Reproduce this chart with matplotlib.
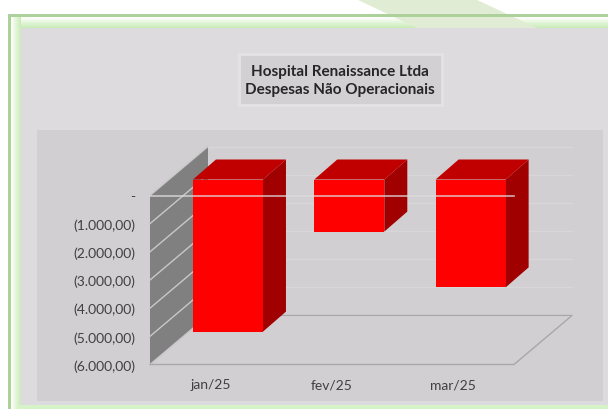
import numpy as np
from matplotlib import pyplot as plt
from matplotlib.colors import LinearSegmentedColormap
from matplotlib.patches import Polygon, Rectangle

months = ["jan/25", "fev/25", "mar/25"]
despesas = [-5400, -1850, -3830]
y_ticks = [0, -1000, -2000, -3000, -4000, -5000, -6000]
y_labels = ["-", "(1.000,00)", "(2.000,00)", "(3.000,00)", "(4.000,00)", "(5.000,00)", "(6.000,00)"]
title = "Hospital Renaissance Ltda\nDespesas Não Operacionais"

plt.rcParams['font.family'] = ['Lato', 'DejaVu Sans']
W, H = 608, 410
TEXT = "#404040"

fig = plt.figure(figsize=(W / 100, H / 100), dpi=100, facecolor="white")

# background drawn in pixel coordinates
bg = fig.add_axes([0, 0, 1, 1])
bg.set_xlim(0, W)
bg.set_ylim(H, 0)
bg.axis("off")
bg.add_patch(Polygon([(356, 0), (475, 0), (537, 29), (417, 29)], fc="#e1ecd4", ec="none", zorder=2))
glow = LinearSegmentedColormap.from_list("glow", ["#ffffff", "#c9ecb6"])
bg.imshow(np.linspace(0, 1, 32).reshape(-1, 1), cmap=glow, extent=(11, W, 29, 18), aspect="auto", zorder=1)
bg.imshow(np.linspace(0, 1, 32).reshape(1, -1), cmap=glow, extent=(11, 21, H, 18), aspect="auto", zorder=1)
bg.set_xlim(0, W)
bg.set_ylim(H, 0)
bg.add_patch(Rectangle((8, 15), W, 3, fc="#add19a", ec="none", zorder=3))
bg.add_patch(Rectangle((8, 15), 3, H, fc="#add19a", ec="none", zorder=3))
bg.add_patch(Rectangle((21, 29), W - 21, 377, fc="#dddbdd", ec="none", zorder=3))
bg.add_patch(Rectangle((17, 406), W, 4, fc="#d6f3c8", ec="none", zorder=3))
bg.add_patch(Rectangle((37, 131), 566, 271, fc="#d1cfd1", ec="none", zorder=4))
bg.add_patch(Rectangle((239, 55), 203, 51, fc="#d2d0d2", ec="#e4e2e4", lw=2, zorder=4))
bg.text(340, 81, title, ha="center", va="center", fontsize=11, fontweight="bold",
        color="#262626", linespacing=1.4, zorder=5)

# chart axes sit on the front plane of the 3D box
ax = fig.add_axes([150 / W, 1 - 365.5 / H, 364 / W, 169 / H])
ax.patch.set_alpha(0)
ax.set_xlim(0, 3)
ax.set_ylim(-6000, 0)
for s in ax.spines.values():
    s.set_visible(False)

x_px = 3 / 364
y_px = 6000 / 169
depth_x, depth_y = 58 * x_px, 49 * y_px
near_x, near_y = 17.3 * x_px, 16 * y_px
far_x, far_y = 40.3 * x_px, 36 * y_px
xs = np.arange(len(months)) + 0.5
width = 70 * x_px

# left wall and floor
ax.add_patch(Polygon([(0, 0), (depth_x, depth_y), (depth_x, -6000 + depth_y), (0, -6000)],
                     fc="#808080", ec="none", clip_on=False, zorder=1))
for v in y_ticks:
    ax.plot([0, depth_x], [v, v + depth_y], color="#c8c8c8", lw=1, clip_on=False, zorder=2)
    ax.plot([depth_x, 3 + depth_x], [v + depth_y, v + depth_y], color="#d8d6d8", lw=1, clip_on=False, zorder=1)
ax.plot([0, 3, 3 + depth_x, depth_x], [-6000, -6000, -6000 + depth_y, -6000 + depth_y],
        color="#a9a8a9", lw=1, clip_on=False, zorder=2)

# bars: side and top first, then the front face
for x, v in zip(xs, despesas):
    left, right = x - width / 2 + near_x, x + width / 2 + near_x
    ax.add_patch(Polygon([(right, near_y), (right + far_x - near_x, far_y),
                          (right + far_x - near_x, v + far_y), (right, v + near_y)],
                         fc="#a00000", ec="none", clip_on=False, zorder=3))
    ax.add_patch(Polygon([(left, near_y), (right, near_y), (right + far_x - near_x, far_y),
                          (left + far_x - near_x, far_y)],
                         fc="#c00000", ec="none", clip_on=False, zorder=3))
ax.bar(xs + near_x, despesas, width, bottom=near_y, color="#ff0000", clip_on=False, zorder=4)

ax.plot([0, 3], [y_ticks[0], y_ticks[0]], color="#e0dcdc", alpha=0.8, lw=1.2, clip_on=False, zorder=5)

ax.set_yticks(y_ticks)
ax.set_yticklabels(y_labels)
ax.set_xticks(xs)
ax.set_xticklabels(months)
ax.tick_params(axis="y", length=0, pad=10.8, labelsize=10, labelcolor=TEXT)
ax.tick_params(axis="x", length=0, pad=10, labelsize=10, labelcolor=TEXT)

fig.savefig("out.png", dpi=100)
